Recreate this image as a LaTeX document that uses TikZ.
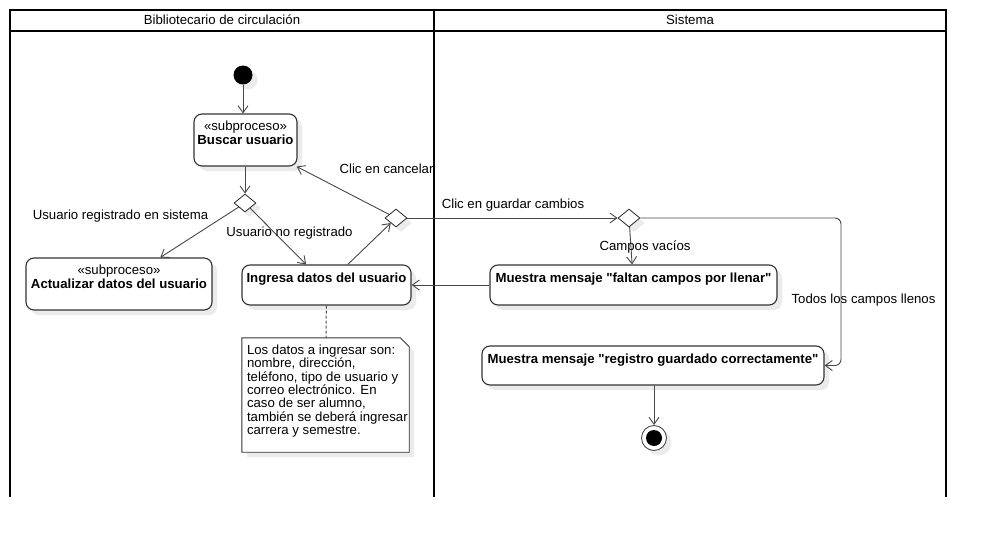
\documentclass[tikz,border=0pt]{standalone}
\usepackage{fontspec}
\setmainfont{Liberation Sans}
\usetikzlibrary{arrows.meta,shapes.geometric,shadows}
\newcommand{\comillas}{\textquotedbl}

\begin{document}
\begin{tikzpicture}[x=1pt,y=-1pt,
        font=\fontsize{13.2}{14}\selectfont,
        sombra/.style={drop shadow={shadow xshift=5pt,shadow yshift=-5pt,fill=black!8,opacity=1}},
        accion/.style={draw=black!80,line width=1.1pt,rounded corners=8pt,fill=white,sombra,align=center,inner sep=2pt},
        decision/.style={diamond,draw=black!85,line width=0.8pt,fill=white,sombra,minimum width=22pt,minimum height=18pt,inner sep=0pt},
        flujo/.style={draw=black!72,line width=0.9pt,-{Straight Barb[length=7pt,width=10pt]}},
        etiq/.style={inner sep=0pt,text height=9.5pt,text depth=2.5pt},
        carril/.style={line width=1.8pt}]

    \useasboundingbox (0,0) rectangle (986,538);

    % Carriles
    \draw[carril] (10,497) -- (10,10) -- (946,10) -- (946,497);
    \draw[carril] (10,31) -- (946,31) (434,10) -- (434,497);
    \node[etiq] (hbib) at (222,20.5) {Bibliotecario de circulación};
    \node[etiq] (hsis) at (690,20.5) {Sistema};

    % Nodos
    \node[circle,fill=black,minimum size=19pt,inner sep=0pt,sombra] (ini) at (243,75) {};
    \node[accion,minimum width=103pt,minimum height=52pt] (bus) at (245.5,140)
        {«subproceso»\\\textbf{Buscar usuario}\\~};
    \node[decision] (d1) at (245,203) {};
    \node[accion,minimum width=186pt,minimum height=52pt] (act) at (119,284)
        {«subproceso»\\\textbf{Actualizar datos del usuario}\\~};
    \node[accion,minimum width=169pt,minimum height=40pt] (ing) at (326.5,285)
        {\textbf{Ingresa datos del usuario}\\~};
    \node[decision] (d2) at (396,218) {};
    \node[decision] (d3) at (629,218) {};
    \node[accion,minimum width=287pt,minimum height=40pt] (falt) at (633.5,285)
        {\textbf{Muestra mensaje \comillas faltan campos por llenar\comillas}\\~};
    \node[accion,minimum width=342pt,minimum height=39pt] (reg) at (653,365.5)
        {\textbf{Muestra mensaje \comillas registro guardado correctamente\comillas}\\~};
    \node[circle,draw=black!70,line width=0.9pt,fill=white,minimum size=25pt,inner sep=0pt,sombra] (fin) at (654,438) {};
    \node[circle,fill=black,minimum size=16pt,inner sep=0pt] (finint) at (fin) {};
    \coordinate (esq) at (841,218);

    % Nota
    \node[minimum width=167pt,minimum height=114pt,inner sep=0pt] (nota) at (325.5,395) {};
    \draw[draw=black!80,line width=0.9pt,fill=white,sombra]
       (nota.north west)
    -- ([xshift=-9pt]nota.north east)
    -- ([yshift=-9pt]nota.north east)
    -- (nota.south east)
    -- (nota.south west)
    -- cycle;
    \node[anchor=north west,align=left,inner sep=0pt,font=\fontsize{13.2}{13.3}\selectfont] (notatxt)
        at ([xshift=5pt,yshift=-7pt]nota.north west)
        {Los datos a ingresar son:\\nombre, dirección,\\teléfono, tipo de usuario y\\correo electrónico. En\\caso de ser alumno,\\también se deberá ingresar\\carrera y semestre.};
    \draw[draw=black!70,line width=1pt,dash pattern=on 3pt off 2pt] (ing) -- (nota);

    % Flujos
    \draw[flujo] (ini) -- (ini |- bus.north);
    \draw[flujo] (bus.south -| d1) -- (d1.north);
    \draw[flujo] (d1) -- (act);
    \draw[flujo] (d1) -- (ing);
    \draw[flujo] (ing) -- (d2);
    \draw[flujo] (d2) -- (bus);
    \draw[flujo] (d2) -- (d3);
    \draw[flujo] (d3) -- (falt);
    \draw[flujo,rounded corners=6pt] (d3.east) -- (esq) |- (reg.east);
    \draw[flujo] (falt) -- (ing);
    \draw[flujo] (reg.south -| fin) -- (fin);

    % Etiquetas
    \node[etiq] (lreg) at (120.5,216) {Usuario registrado en sistema};
    \node[etiq] (lnoreg) at (289.5,233) {Usuario no registrado};
    \node[etiq] (lcanc) at (386.5,170) {Clic en cancelar};
    \node[etiq] (lguard) at (513,205) {Clic en guardar cambios};
    \node[etiq] (lvac) at (645,247) {Campos vacíos};
    \node[etiq] (llen) at (863.5,300) {Todos los campos llenos};
\end{tikzpicture}
\end{document}
